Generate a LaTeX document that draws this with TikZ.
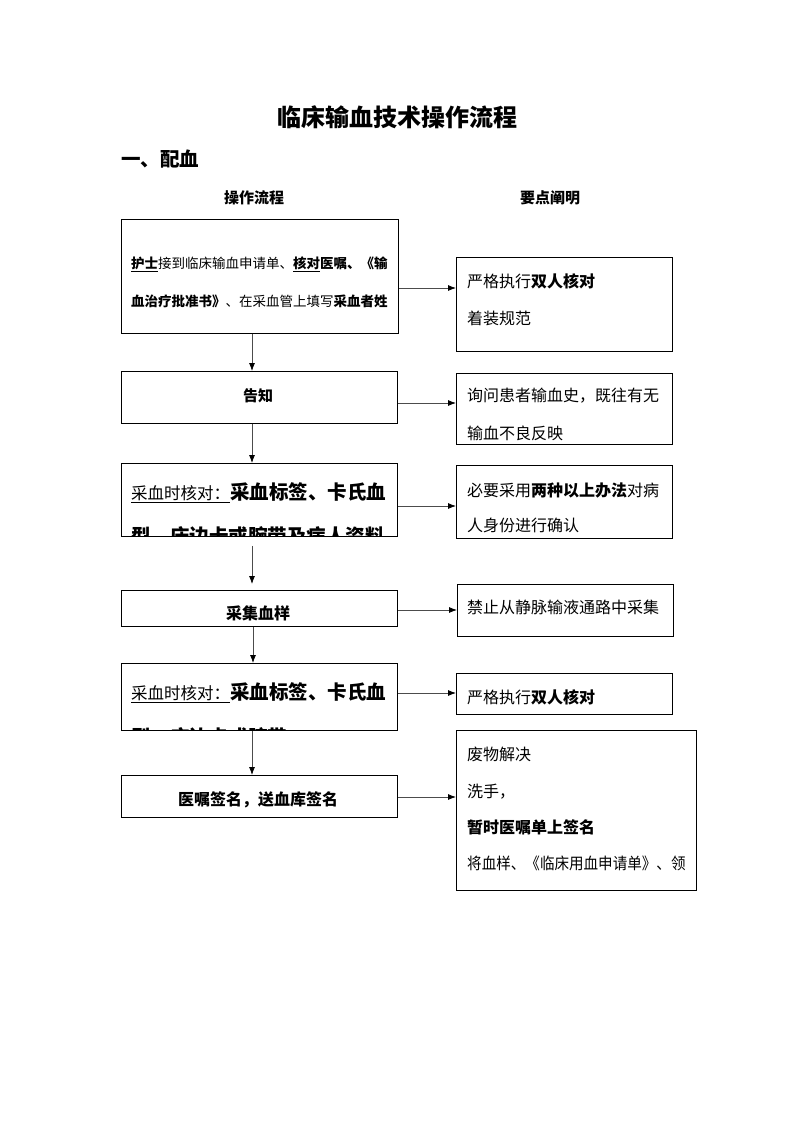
\documentclass[tikz,border=0pt]{standalone}
\usepackage{fontspec}
\setmainfont{Noto Sans CJK SC}
\usetikzlibrary{arrows.meta}
\newcommand{\myfs}[1]{\fontsize{#1}{#1}\selectfont}
\begin{document}
\begin{tikzpicture}[x=1pt,y=-1pt,
  box/.style={draw, line width=0.8pt, anchor=north west, inner sep=0pt},
  txt/.style={anchor=base west, inner sep=0pt},
  ctxt/.style={anchor=base, inner sep=0pt},
  arr/.style={draw=black!70, line width=0.8pt, -{Latex[length=8pt,width=6pt,color=black]}}]
\useasboundingbox (0,0) rectangle (793,1122);
\fill[white] (0,0) rectangle (793,1122);

% headings
\node[ctxt] (title) at (397,126) {\myfs{24}\bfseries 临床输血技术操作流程};
\node[txt] (sec) at (121,166) {\myfs{19.5}\bfseries 一、配血};
\node[ctxt] (h1) at (254,203) {\myfs{15}\bfseries 操作流程};
\node[ctxt] (h2) at (550,203) {\myfs{15}\bfseries 要点阐明};

% left boxes
\node[box, minimum width=277pt, minimum height=114pt] (b1) at (121,219) {};
\node[box, minimum width=276pt, minimum height=52pt] (b2) at (121,371) {};
\node[box, minimum width=276pt, minimum height=73pt] (b3) at (121,463) {};
\node[box, minimum width=276pt, minimum height=36pt] (b4) at (121,590) {};
\node[box, minimum width=276pt, minimum height=67pt] (b5) at (121,663) {};
\node[box, minimum width=276pt, minimum height=42pt] (b6) at (121,775) {};

% right boxes
\node[box, minimum width=216pt, minimum height=94pt] (r1) at (456,257) {};
\node[box, minimum width=216pt, minimum height=71pt] (r2) at (456,373) {};
\node[box, minimum width=216pt, minimum height=73pt] (r3) at (456,465) {};
\node[box, minimum width=216pt, minimum height=52pt] (r4) at (457,584) {};
\node[box, minimum width=216pt, minimum height=41pt] (r5) at (456,673) {};
\node[box, minimum width=240pt, minimum height=160pt] (r6) at (456,730) {};

% left texts
\node[txt] (t1a) at (131,268) {\myfs{13.5}\underline{\textbf{护士}}接到临床输血申请单、\underline{\textbf{核对}}\textbf{医嘱、《输}};
\node[txt] (t1b) at (131,306) {\myfs{13.5}\textbf{血治疗批准书》}、在采血管上填写\textbf{采血者姓}};
\node[ctxt] (t2) at (258,401) {\myfs{15}\bfseries 告知};
\node[txt] (t3a) at (131,499) {\myfs{16.5}\underline{采血时核对：}\myfs{19.5}\bfseries 采血标签、卡氏血};
\begin{scope}
  \clip (b3.north west) rectangle (b3.south east);
  \node[txt] (t3b) at (131,543) {\myfs{19.5}\bfseries 型、床边卡或腕带及病人资料};
\end{scope}
\node[ctxt] (t4) at (258,619) {\myfs{16}\bfseries 采集血样};
\node[txt] (t5a) at (131,699) {\myfs{16.5}\underline{采血时核对：}\myfs{19.5}\bfseries 采血标签、卡氏血};
\begin{scope}
  \clip (b5.north west) rectangle (b5.south east);
  \node[txt] (t5b) at (131,744) {\myfs{19.5}\bfseries 型、床边卡或腕带};
\end{scope}
\node[ctxt] (t6) at (258,805) {\myfs{16}\bfseries 医嘱签名，送血库签名};

% right texts
\node[txt] (r1a) at (467,287) {\myfs{16}严格执行\textbf{双人核对}};
\node[txt] (r1b) at (467,324) {\myfs{16}着装规范};
\node[txt] (r2a) at (467,401) {\myfs{16}询问患者输血史，既往有无};
\node[txt] (r2b) at (467,439) {\myfs{16}输血不良反映};
\node[txt] (r3a) at (467,496) {\myfs{16}必要采用\textbf{两种以上办法}对病};
\node[txt] (r3b) at (467,531) {\myfs{16}人身份进行确认};
\node[txt] (r4a) at (467,613) {\myfs{16}禁止从静脉输液通路中采集};
\node[txt] (r5a) at (467,703) {\myfs{16}严格执行\textbf{双人核对}};
\node[txt] (r6a) at (467,760) {\myfs{16}废物解决};
\node[txt] (r6b) at (467,797) {\myfs{16}洗手，};
\node[txt] (r6c) at (467,833) {\myfs{16}\bfseries 暂时医嘱单上签名};
\node[txt] (r6d) at (467,869) {\scalebox{0.91}[1]{\myfs{16}将血样、《临床用血申请单》、领}};

% vertical connectors
\draw[arr] (b1.south -| 252,0) -- (b2.north -| 252,0);
\draw[arr] (b2.south -| 252,0) -- (b3.north -| 252,0);
\draw[arr, shorten <=9pt, shorten >=6pt] (b3.south -| 252,0) -- (b4.north -| 252,0);
\draw[arr] (b4.south -| 253,0) -- (b5.north -| 253,0);
\draw[arr] (b5.south -| 252,0) -- (b6.north -| 252,0);

% horizontal connectors
\draw[arr] (b1.east |- 0,288) -- (r1.west |- 0,288);
\draw[arr] (b2.east |- 0,403) -- (r2.west |- 0,403);
\draw[arr] (b3.east |- 0,506) -- (r3.west |- 0,506);
\draw[arr] (b4.east |- 0,610) -- (r4.west |- 0,610);
\draw[arr] (b5.east |- 0,693) -- (r5.west |- 0,693);
\draw[arr] (b6.east |- 0,797) -- (r6.west |- 0,797);
\end{tikzpicture}
\end{document}
